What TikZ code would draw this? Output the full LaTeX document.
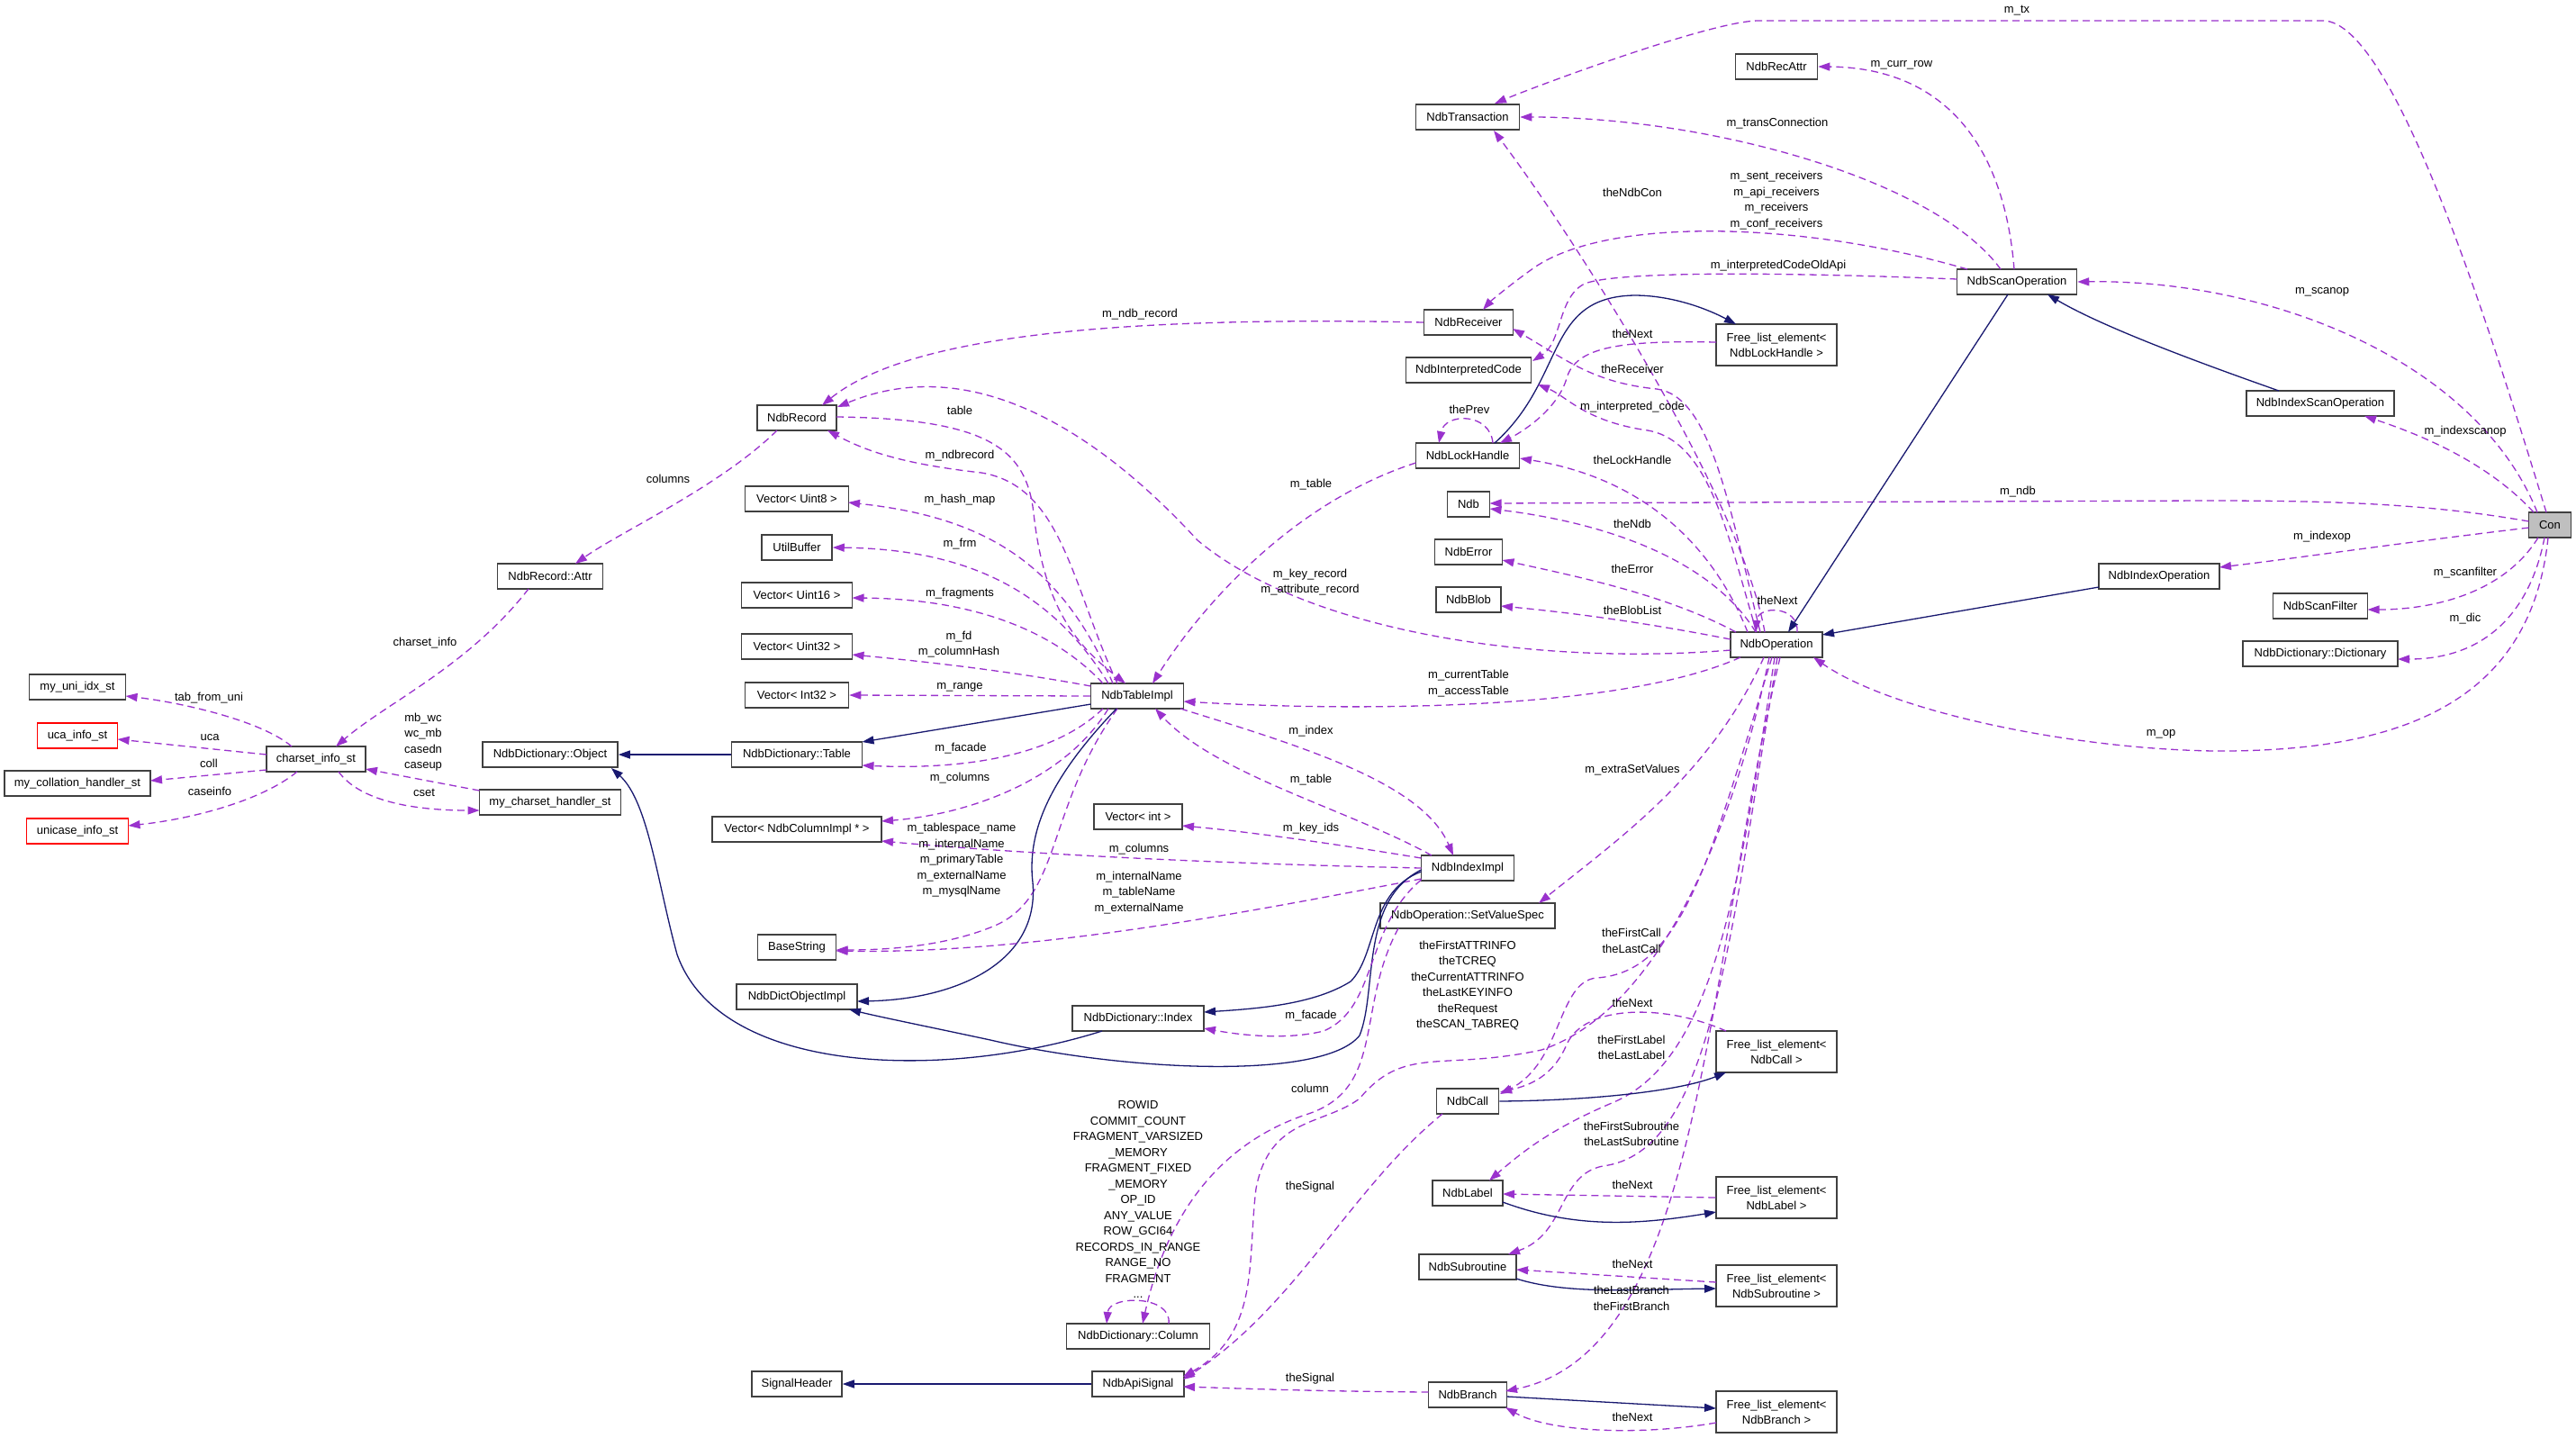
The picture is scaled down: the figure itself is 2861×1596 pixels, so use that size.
\documentclass[tikz,border=0pt]{standalone}
\usepackage{fontspec}
\setmainfont{Liberation Sans}
\usetikzlibrary{arrows.meta}
\definecolor{edgepurple}{HTML}{9A32CD}
\definecolor{edgeblue}{HTML}{191970}
\definecolor{boxline}{HTML}{404040}
\definecolor{confill}{HTML}{BFBFBF}
\begin{document}
\begin{tikzpicture}[x=1pt,y=-1pt,
 cls/.style={draw=boxline, line width=1.5pt, minimum height=28pt, inner sep=0pt, font=\fontsize{13}{17}\selectfont, align=center, fill=white},
 cls2/.style={cls, minimum height=46pt, minimum width=134pt},
 lbl/.style={inner sep=0pt, font=\fontsize{13}{17.5}\selectfont, align=center},
 memb/.style={draw=edgepurple, line width=1.3pt, dash pattern=on 8pt off 5pt, -{Triangle[length=13pt,width=9pt]}},
 inh/.style={draw=edgeblue, line width=1.3pt, -{Triangle[length=13pt,width=9pt]}}]
\fill[white] (0,0) rectangle (2861,1596);
\useasboundingbox (0,0) rectangle (2861,1596);
% nodes
\node[cls, minimum width=115pt] (tr) at (1630,130) {NdbTransaction};
\node[cls, minimum width=91pt] (recattr) at (1973,74) {NdbRecAttr};
\node[cls, minimum width=133pt] (scanop) at (2240,313) {NdbScanOperation};
\node[cls, minimum width=99pt] (recv) at (1631,358) {NdbReceiver};
\node[cls2] (fllock) at (1973,383) {Free\_list\_element<\\NdbLockHandle >};
\node[cls, minimum width=139pt] (icode) at (1631,411) {NdbInterpretedCode};
\node[cls, minimum width=115pt] (lock) at (1630,506) {NdbLockHandle};
\node[cls, minimum width=164pt] (idxscan) at (2577,448) {NdbIndexScanOperation};
\node[cls, minimum width=47pt, fill=confill] (con) at (2832,583) {Con};
\node[cls, minimum width=47pt] (ndb) at (1631,560) {Ndb};
\node[cls, minimum width=75pt] (err) at (1631,613) {NdbError};
\node[cls, minimum width=72pt] (blob) at (1631,666) {NdbBlob};
\node[cls, minimum width=102pt] (op) at (1973,716) {NdbOperation};
\node[cls, minimum width=134pt] (idxop) at (2398,640) {NdbIndexOperation};
\node[cls, minimum width=105pt] (sfilter) at (2577,673) {NdbScanFilter};
\node[cls, minimum width=172pt] (dict) at (2577,726) {NdbDictionary::Dictionary};
\node[cls, minimum width=88pt] (rec) at (885,464) {NdbRecord};
\node[cls, minimum width=115pt] (vu8) at (885,554) {Vector< Uint8 >};
\node[cls, minimum width=78pt] (ubuf) at (885,608) {UtilBuffer};
\node[cls, minimum width=123pt] (vu16) at (885,661) {Vector< Uint16 >};
\node[cls, minimum width=123pt] (vu32) at (885,718) {Vector< Uint32 >};
\node[cls, minimum width=115pt] (vi32) at (885,772) {Vector< Int32 >};
\node[cls, minimum width=145pt] (dtable) at (885,838) {NdbDictionary::Table};
\node[cls, minimum width=103pt] (timpl) at (1263,773) {NdbTableImpl};
\node[cls, minimum width=98pt] (vint) at (1264,907) {Vector< int >};
\node[cls, minimum width=117pt] (attr) at (611,640) {NdbRecord::Attr};
\node[cls, minimum width=107pt] (uni) at (86,763) {my\_uni\_idx\_st};
\node[cls, draw=red, minimum width=89pt] (uca) at (86,817) {uca\_info\_st};
\node[cls, minimum width=162pt] (coll) at (86,870) {my\_collation\_handler\_st};
\node[cls, draw=red, minimum width=113pt] (unic) at (86,923) {unicase\_info\_st};
\node[cls, minimum width=110pt] (cs) at (351,843) {charset\_info\_st};
\node[cls, minimum width=150pt] (dobj) at (611,838) {NdbDictionary::Object};
\node[cls, minimum width=157pt] (mch) at (611,891) {my\_charset\_handler\_st};
\node[cls, minimum width=188pt] (vcol) at (885,921) {Vector< NdbColumnImpl * >};
\node[cls, minimum width=87pt] (bstr) at (885,1052) {BaseString};
\node[cls, minimum width=134pt] (doi) at (885,1107) {NdbDictObjectImpl};
\node[cls, minimum width=146pt] (didx) at (1264,1131) {NdbDictionary::Index};
\node[cls, minimum width=159pt] (dcol) at (1264,1484) {NdbDictionary::Column};
\node[cls, minimum width=100pt] (sh) at (885,1537) {SignalHeader};
\node[cls, minimum width=102pt] (sig) at (1264,1537) {NdbApiSignal};
\node[cls, minimum width=103pt] (iimpl) at (1630,964) {NdbIndexImpl};
\node[cls, minimum width=194pt] (svs) at (1630,1017) {NdbOperation::SetValueSpec};
\node[cls, minimum width=69pt] (call) at (1630,1223) {NdbCall};
\node[cls2] (flcall) at (1973,1168) {Free\_list\_element<\\NdbCall >};
\node[cls, minimum width=78pt] (lab) at (1630,1325) {NdbLabel};
\node[cls2] (fllabel) at (1973,1330) {Free\_list\_element<\\NdbLabel >};
\node[cls, minimum width=108pt] (sub) at (1630,1407) {NdbSubroutine};
\node[cls2] (flsub) at (1973,1428) {Free\_list\_element<\\NdbSubroutine >};
\node[cls, minimum width=87pt] (branch) at (1630,1549) {NdbBranch};
\node[cls2] (flbranch) at (1973,1568) {Free\_list\_element<\\NdbBranch >};
% edges from Con
\draw[memb] ([shift={(-4,-14)}]con.center) .. controls (2770,380) and (2660,23) .. (2580,23) -- (1953,23) .. controls (1900,23) and (1700,98) .. ([shift={(30,-15)}]tr.center);
\draw[memb] ([shift={(-14,-14)}]con.center) .. controls (2750,400) and (2520,310) .. (scanop.east);
\draw[memb] ([shift={(-18,-14)}]con.center) .. controls (2760,510) and (2680,480) .. ([shift={(49,14)}]idxscan.center);
\draw[memb] ([shift={(-23.5,-4)}]con.center) .. controls (2700,560) and (2600,556) .. (2450,556) -- ([shift={(23.5,-1)}]ndb.center);
\draw[memb] ([shift={(-23.5,3)}]con.center) .. controls (2650,605) and (2550,620) .. ([shift={(67,-10)}]idxop.center);
\draw[memb] ([shift={(-13,14)}]con.center) .. controls (2780,660) and (2700,677) .. ([shift={(52.5,4)}]sfilter.center);
\draw[memb] ([shift={(-6,14)}]con.center) .. controls (2810,680) and (2760,732) .. ([shift={(86,6)}]dict.center);
\draw[memb] ([shift={(-2,14)}]con.center) .. controls (2810,790) and (2650,835) .. (2460,834) .. controls (2300,832) and (2100,790) .. ([shift={(41,14)}]op.center);
% from NdbScanOperation
\draw[memb] ([shift={(-3,-14)}]scanop.center) .. controls (2225,150) and (2150,75) .. (recattr.east);
\draw[memb] ([shift={(-18,-14)}]scanop.center) .. controls (2150,200) and (1900,130) .. (tr.east);
\draw[memb] ([shift={(-55,-14)}]scanop.center) .. controls (2000,245) and (1780,240) .. (1700,300) .. controls (1675,318) and (1655,335) .. ([shift={(16,-14)}]recv.center);
\draw[memb] ([shift={(-66.5,-3)}]scanop.center) .. controls (2000,303) and (1800,300) .. (1760,315) .. controls (1730,330) and (1735,380) .. ([shift={(71,-10)}]icode.center);
\draw[inh] ([shift={(-46,-14)}]idxscan.center) .. controls (2420,395) and (2330,360) .. ([shift={(34,14)}]scanop.center);
\draw[inh] ([shift={(-10,14)}]scanop.center) -- ([shift={(13,-14)}]op.center);
\draw[inh] ([shift={(-67,12)}]idxop.center) -- ([shift={(51,-11)}]op.center);
% lock handle
\draw[inh] ([shift={(30,-14)}]lock.center) .. controls (1740,420) and (1715,330) .. (1815,328) .. controls (1860,328) and (1900,345) .. ([shift={(-45,-23)}]fllock.center);
\draw[memb] ([shift={(28,-14)}]lock.center) .. controls (1655,458) and (1605,458) .. ([shift={(-32,-14)}]lock.center);
\draw[memb] ([shift={(-67,-3)}]fllock.center) .. controls (1800,378) and (1750,385) .. (1740,420) .. controls (1730,455) and (1690,480) .. ([shift={(36,-14)}]lock.center);
% from NdbOperation
\draw[memb] ([shift={(-13,-14)}]op.center) .. controls (1935,560) and (1760,280) .. ([shift={(29,15)}]tr.center);
\draw[memb] ([shift={(-18,-14)}]op.center) .. controls (1920,560) and (1900,440) .. (1840,432) .. controls (1770,425) and (1740,400) .. ([shift={(49,7)}]recv.center);
\draw[memb] ([shift={(-22,-14)}]op.center) .. controls (1920,600) and (1900,490) .. (1830,478) .. controls (1760,468) and (1740,440) .. ([shift={(77,16)}]icode.center);
\draw[memb] ([shift={(-32,-14)}]op.center) .. controls (1900,600) and (1820,530) .. ([shift={(58,3)}]lock.center);
\draw[memb] ([shift={(-23,-14)}]op.center) .. controls (1900,620) and (1780,580) .. ([shift={(23.5,5)}]ndb.center);
\draw[memb] ([shift={(-45,-14)}]op.center) .. controls (1850,660) and (1750,640) .. ([shift={(37.5,9)}]err.center);
\draw[memb] ([shift={(-51,-6)}]op.center) .. controls (1820,690) and (1740,680) .. ([shift={(36,7)}]blob.center);
\draw[memb] ([shift={(23,-14)}]op.center) .. controls (1998,672) and (1952,672) .. ([shift={(-23,-14)}]op.center);
\draw[memb] ([shift={(-51,6)}]op.center) .. controls (1700,740) and (1450,700) .. (1330,600) .. controls (1220,480) and (1080,390) .. ([shift={(45,-12)}]rec.center);
\draw[memb] ([shift={(-40,14)}]op.center) .. controls (1800,790) and (1500,790) .. ([shift={(51.5,6)}]timpl.center);
\draw[memb] ([shift={(-14,14)}]op.center) .. controls (1900,860) and (1800,930) .. ([shift={(79,-14)}]svs.center);
\draw[memb] ([shift={(-5,14)}]op.center) .. controls (1900,950) and (1870,1080) .. (1773,1086) .. controls (1730,1090) and (1735,1180) .. ([shift={(36,-8)}]call.center);
\draw[memb] ([shift={(-8,14)}]op.center) .. controls (1930,900) and (1850,1120) .. (1712,1166) .. controls (1600,1190) and (1560,1160) .. (1510,1220) .. controls (1470,1250) and (1410,1240) .. (1395,1320) .. controls (1385,1400) and (1400,1480) .. ([shift={(50,-8)}]sig.center);
\draw[memb] ([shift={(-2,14)}]op.center) .. controls (1930,1000) and (1900,1180) .. (1790,1225) .. controls (1720,1255) and (1690,1280) .. ([shift={(24,-14)}]lab.center);
\draw[memb] ([shift={(1,14)}]op.center) .. controls (1920,1050) and (1900,1280) .. (1780,1295) .. controls (1730,1305) and (1740,1370) .. ([shift={(45,-14)}]sub.center);
\draw[memb] ([shift={(4,14)}]op.center) .. controls (1890,1100) and (1890,1500) .. ([shift={(42,-4)}]branch.center);
% signals, column
\draw[memb] ([shift={(-28,14)}]call.center) .. controls (1500,1320) and (1440,1450) .. ([shift={(50,-5)}]sig.center);
\draw[memb] ([shift={(-43.5,-3)}]branch.center) .. controls (1450,1545) and (1380,1542) .. ([shift={(50,3)}]sig.center);
\draw[memb] ([shift={(-77,14)}]svs.center) .. controls (1505,1120) and (1540,1210) .. (1450,1238) .. controls (1370,1265) and (1300,1330) .. ([shift={(5,-14)}]dcol.center);
\draw[memb] ([shift={(34,-14)}]dcol.center) .. controls (1302,1438) and (1232,1438) .. ([shift={(-35,-14)}]dcol.center);
\draw[inh] (sig.west) -- (sh.east);
% free lists
\draw[inh] (call.east) .. controls (1780,1222) and (1870,1210) .. ([shift={(-56,23)}]flcall.center);
\draw[memb] ([shift={(-56,-23)}]flcall.center) .. controls (1850,1115) and (1760,1115) .. (1740,1160) .. controls (1725,1195) and (1700,1205) .. ([shift={(36,-10)}]call.center);
\draw[inh] ([shift={(39,10)}]lab.center) .. controls (1750,1365) and (1820,1360) .. ([shift={(-67,16)}]fllabel.center);
\draw[memb] (fllabel.west) -- ([shift={(39,1)}]lab.center);
\draw[inh] ([shift={(54,13)}]sub.center) .. controls (1740,1438) and (1820,1432) .. ([shift={(-67,3)}]flsub.center);
\draw[memb] ([shift={(-67,-4)}]flsub.center) -- ([shift={(54,3)}]sub.center);
\draw[inh] ([shift={(43.5,2)}]branch.center) -- ([shift={(-67,-4)}]flbranch.center);
\draw[memb] ([shift={(-67,12)}]flbranch.center) .. controls (1820,1595) and (1720,1590) .. ([shift={(42,14)}]branch.center);
% NdbTableImpl
\draw[memb] ([shift={(44,-1)}]rec.center) .. controls (1100,465) and (1140,500) .. (1148,570) .. controls (1160,680) and (1200,720) .. ([shift={(-13,-14)}]timpl.center);
\draw[memb] ([shift={(-22,-14)}]timpl.center) .. controls (1190,650) and (1180,540) .. (1090,525) .. controls (1000,515) and (960,500) .. ([shift={(34,14)}]rec.center);
\draw[memb] ([shift={(-27,-14)}]timpl.center) .. controls (1180,630) and (1100,575) .. ([shift={(57,4)}]vu8.center);
\draw[memb] ([shift={(-32,-14)}]timpl.center) .. controls (1170,660) and (1080,610) .. (ubuf.east);
\draw[memb] ([shift={(-38,-14)}]timpl.center) .. controls (1170,700) and (1080,665) .. ([shift={(61.5,3)}]vu16.center);
\draw[memb] ([shift={(-51.5,-11)}]timpl.center) .. controls (1120,745) and (1030,735) .. ([shift={(61.5,9)}]vu32.center);
\draw[memb] (timpl.west) -- (vi32.east);
\draw[inh] ([shift={(-51.5,9)}]timpl.center) -- ([shift={(72.5,-14)}]dtable.center);
\draw[memb] ([shift={(-38,14)}]timpl.center) .. controls (1170,840) and (1070,855) .. ([shift={(72.5,12)}]dtable.center);
\draw[memb] ([shift={(-32,14)}]timpl.center) .. controls (1180,870) and (1070,905) .. ([shift={(94,-9)}]vcol.center);
\draw[memb] ([shift={(-22,14)}]timpl.center) .. controls (1160,900) and (1180,1000) .. (1100,1030) .. controls (1050,1050) and (990,1055) .. ([shift={(43.5,3)}]bstr.center);
\draw[inh] ([shift={(-23,14)}]timpl.center) .. controls (1170,860) and (1140,920) .. (1147,980) .. controls (1155,1070) and (1060,1110) .. ([shift={(67,5)}]doi.center);
% NdbIndexImpl
\draw[memb] ([shift={(-51.5,0)}]iimpl.center) .. controls (1300,958) and (1100,945) .. ([shift={(94,13)}]vcol.center);
\draw[memb] ([shift={(-51.5,12)}]iimpl.center) .. controls (1400,1010) and (1150,1060) .. ([shift={(43.5,4)}]bstr.center);
\draw[memb] ([shift={(-51.5,-11)}]iimpl.center) .. controls (1500,940) and (1400,925) .. ([shift={(49,10)}]vint.center);
\draw[memb] ([shift={(48,14)}]timpl.center) .. controls (1450,830) and (1580,870) .. ([shift={(-16,-14)}]iimpl.center);
\draw[memb] ([shift={(-40,-14)}]iimpl.center) .. controls (1500,900) and (1350,860) .. ([shift={(20,14)}]timpl.center);
\draw[memb] ([shift={(-57.5,8)}]lock.center) .. controls (1430,560) and (1330,680) .. ([shift={(17,-14)}]timpl.center);
\draw[inh] ([shift={(-51.5,2)}]iimpl.center) .. controls (1510,1000) and (1530,1100) .. (1510,1150) .. controls (1470,1200) and (1250,1190) .. (1100,1155) .. controls (1030,1140) and (980,1130) .. ([shift={(58,14)}]doi.center);
\draw[inh] ([shift={(-51.5,4)}]iimpl.center) .. controls (1520,990) and (1530,1060) .. (1500,1090) .. controls (1460,1115) and (1400,1120) .. ([shift={(73,-7)}]didx.center);
\draw[memb] ([shift={(-51.5,13)}]iimpl.center) .. controls (1515,1030) and (1530,1120) .. (1470,1145) .. controls (1430,1155) and (1380,1150) .. ([shift={(73,11)}]didx.center);
\draw[inh] ([shift={(-40,14)}]didx.center) .. controls (1050,1200) and (800,1195) .. (752,1060) .. controls (730,980) and (720,890) .. ([shift={(68,15)}]dobj.center);
\draw[inh] (dtable.west) -- (dobj.east);
% NdbRecord and charset
\draw[memb] (recv.west) .. controls (1200,350) and (1000,380) .. ([shift={(28,-14)}]rec.center);
\draw[memb] ([shift={(-22,14)}]rec.center) .. controls (800,540) and (690,590) .. ([shift={(28,-14)}]attr.center);
\draw[memb] ([shift={(-24,14)}]attr.center) .. controls (520,740) and (430,780) .. ([shift={(22,-14)}]cs.center);
\draw[memb] ([shift={(-27,-14)}]cs.center) .. controls (290,800) and (200,780) .. ([shift={(53.5,10)}]uni.center);
\draw[memb] ([shift={(-55,-5)}]cs.center) -- ([shift={(44.5,4)}]uca.center);
\draw[memb] ([shift={(-55,12)}]cs.center) -- ([shift={(81,-3)}]coll.center);
\draw[memb] ([shift={(-21,14)}]cs.center) .. controls (290,890) and (210,910) .. ([shift={(56.5,-6)}]unic.center);
\draw[memb] ([shift={(-78.5,-13)}]mch.center) -- ([shift={(55,11)}]cs.center);
\draw[memb] ([shift={(25,14)}]cs.center) .. controls (400,890) and (460,900) .. ([shift={(-78.5,9)}]mch.center);
% labels
\node[lbl] (l_tx) at (2240,12) {m\_tx};
\node[lbl] (l_scanop) at (2579,324) {m\_scanop};
\node[lbl] (l_idxscan) at (2738,479) {m\_indexscanop};
\node[lbl] (l_ndb) at (2241,546) {m\_ndb};
\node[lbl] (l_idxop) at (2579,596) {m\_indexop};
\node[lbl] (l_sfilter) at (2738,636) {m\_scanfilter};
\node[lbl] (l_dic) at (2738,687) {m\_dic};
\node[lbl] (l_op) at (2400,815) {m\_op};
\node[lbl] (l_currrow) at (2112,72) {m\_curr\_row};
\node[lbl] (l_trans) at (1974,137) {m\_transConnection};
\node[lbl] (l_recv) at (1973,222.5) {m\_sent\_receivers\\m\_api\_receivers\\m\_receivers\\m\_conf\_receivers};
\node[lbl] (l_oldapi) at (1975,295) {m\_interpretedCodeOldApi};
\node[lbl] (l_prev) at (1632,455) {thePrev};
\node[lbl] (l_locknext) at (1813,371) {theNext};
\node[lbl] (l_ndbcon) at (1813,214) {theNdbCon};
\node[lbl] (l_receiver) at (1813,410) {theReceiver};
\node[lbl] (l_icode) at (1813,452) {m\_interpreted\_code};
\node[lbl] (l_lockh) at (1813,511) {theLockHandle};
\node[lbl] (l_thendb) at (1813,582) {theNdb};
\node[lbl] (l_error) at (1813,632) {theError};
\node[lbl] (l_blob) at (1813,678) {theBlobList};
\node[lbl] (l_opnext) at (1974,667) {theNext};
\node[lbl] (l_keyrec) at (1455,646.5) {m\_key\_record\\m\_attribute\_record};
\node[lbl] (l_curtab) at (1631,759) {m\_currentTable\\m\_accessTable};
\node[lbl] (l_extra) at (1813,855) {m\_extraSetValues};
\node[lbl] (l_call) at (1812,1045) {theFirstCall\\theLastCall};
\node[lbl] (l_attrinfo) at (1630,1094.5) {theFirstATTRINFO\\theTCREQ\\theCurrentATTRINFO\\theLastKEYINFO\\theRequest\\theSCAN\_TABREQ};
\node[lbl] (l_label) at (1812,1163.5) {theFirstLabel\\theLastLabel};
\node[lbl] (l_sub) at (1812,1259.5) {theFirstSubroutine\\theLastSubroutine};
\node[lbl] (l_branch) at (1812,1442) {theLastBranch\\theFirstBranch};
\node[lbl] (l_sigcall) at (1455,1318) {theSignal};
\node[lbl] (l_sigbr) at (1455,1531) {theSignal};
\node[lbl] (l_column) at (1455,1209) {column};
\node[lbl] (l_cols) at (1264,1332) {ROWID\\COMMIT\_COUNT\\FRAGMENT\_VARSIZED\\\_MEMORY\\FRAGMENT\_FIXED\\\_MEMORY\\OP\_ID\\ANY\_VALUE\\ROW\_GCI64\\RECORDS\_IN\_RANGE\\RANGE\_NO\\FRAGMENT\\...};
\node[lbl] (l_table) at (1066,456) {table};
\node[lbl] (l_ndbrecord) at (1066,506) {m\_ndbrecord};
\node[lbl] (l_hash) at (1066,555) {m\_hash\_map};
\node[lbl] (l_frm) at (1066,604) {m\_frm};
\node[lbl] (l_frag) at (1066,659) {m\_fragments};
\node[lbl] (l_fd) at (1065,715.5) {m\_fd\\m\_columnHash};
\node[lbl] (l_range) at (1066,763) {m\_range};
\node[lbl] (l_facade) at (1067,831) {m\_facade};
\node[lbl] (l_columns) at (1066,864) {m\_columns};
\node[lbl] (l_bstr1) at (1068,955.5) {m\_tablespace\_name\\m\_internalName\\m\_primaryTable\\m\_externalName\\m\_mysqlName};
\node[lbl] (l_icols) at (1265,943) {m\_columns};
\node[lbl] (l_bstr2) at (1265,991.5) {m\_internalName\\m\_tableName\\m\_externalName};
\node[lbl] (l_keyids) at (1456,920) {m\_key\_ids};
\node[lbl] (l_index) at (1456,812) {m\_index};
\node[lbl] (l_itable) at (1456,866) {m\_table};
\node[lbl] (l_ltable) at (1456,538) {m\_table};
\node[lbl] (l_ndbrec) at (1266,349) {m\_ndb\_record};
\node[lbl] (l_attrcols) at (742,532) {columns};
\node[lbl] (l_csinfo) at (472,714) {charset\_info};
\node[lbl] (l_tab) at (232,775) {tab\_from\_uni};
\node[lbl] (l_uca) at (233,819) {uca};
\node[lbl] (l_coll) at (232,848) {coll};
\node[lbl] (l_caseinfo) at (233,879) {caseinfo};
\node[lbl] (l_mbwc) at (470,824) {mb\_wc\\wc\_mb\\casedn\\caseup};
\node[lbl] (l_cset) at (471,880) {cset};
\node[lbl] (l_ifacade) at (1456,1128) {m\_facade};
\node[lbl] (l_callnext) at (1813,1114) {theNext};
\node[lbl] (l_labnext) at (1813,1316) {theNext};
\node[lbl] (l_subnext) at (1813,1404) {theNext};
\node[lbl] (l_brnext) at (1813,1574) {theNext};
\end{tikzpicture}
\end{document}
